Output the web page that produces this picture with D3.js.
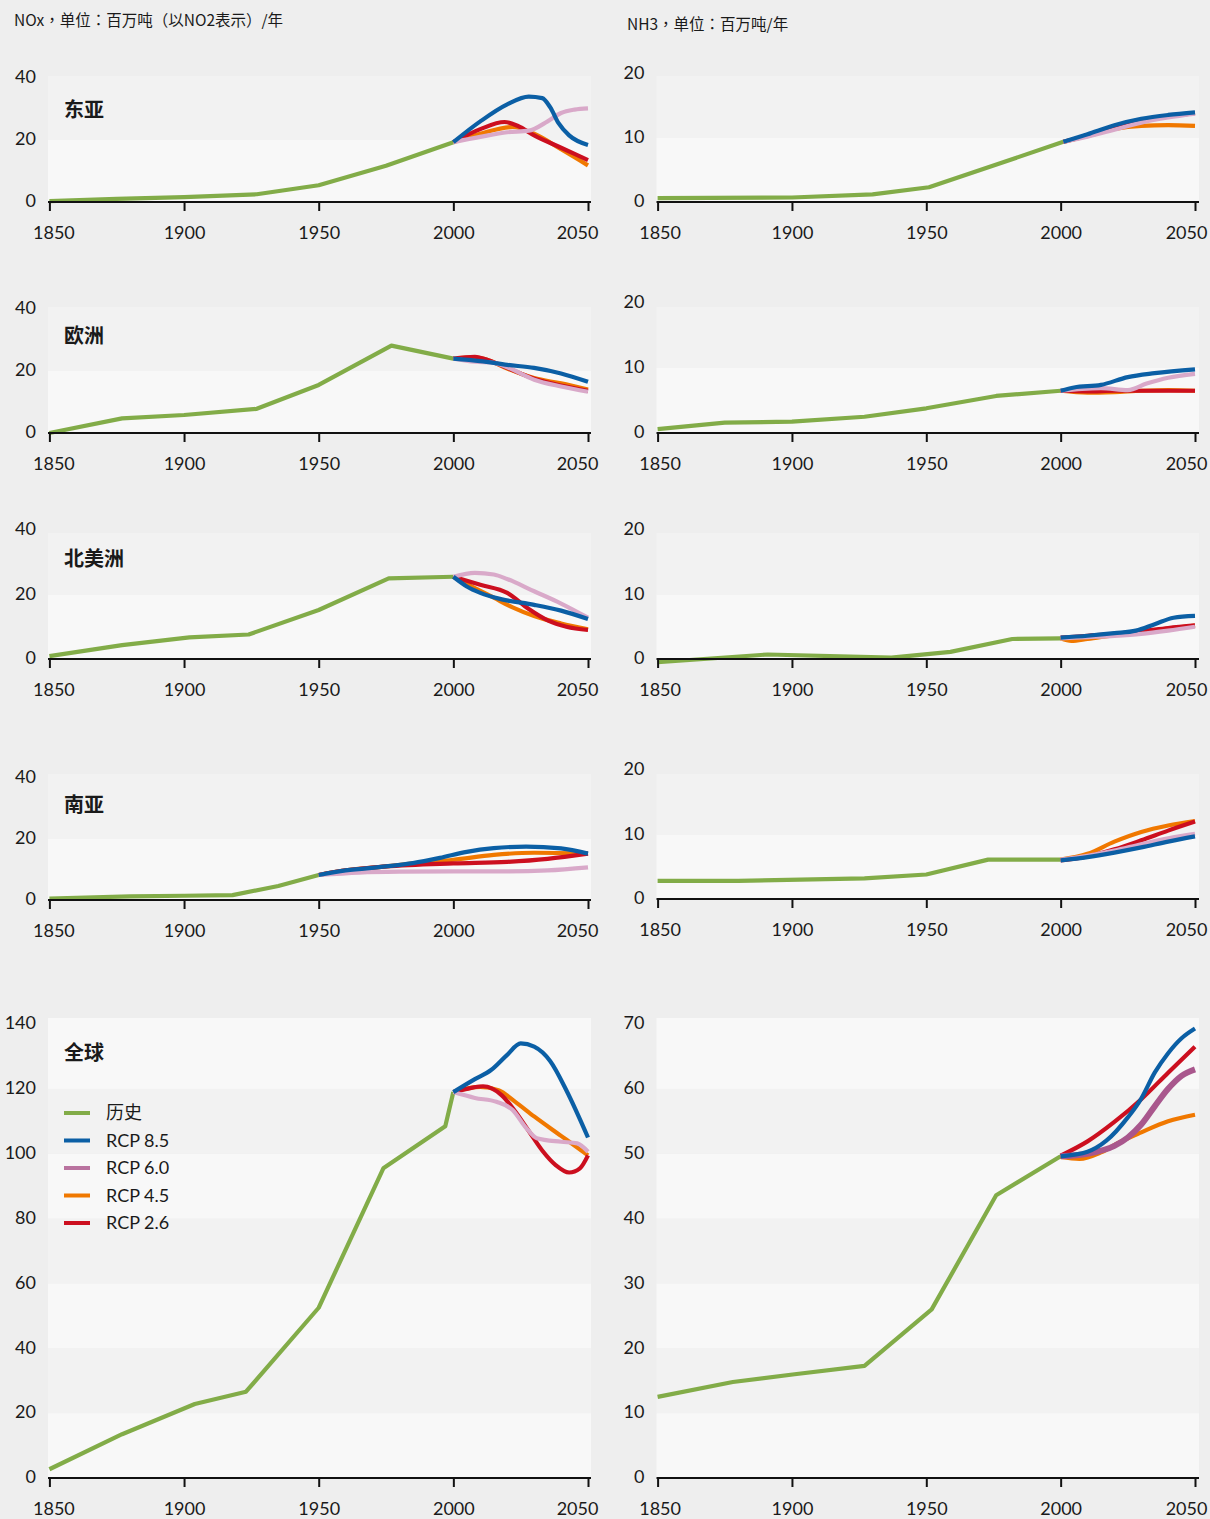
<!DOCTYPE html>
<html><head><meta charset="utf-8">
<script src="https://cdn.jsdelivr.net/npm/d3@7"></script>
<style>
html,body{margin:0;padding:0;background:#eeeeee;}
svg{display:block}
</style></head><body>
<svg id="chart" width="1210" height="1519"></svg>
<script>
// ---------- data ----------
const regions = ["东亚", "欧洲", "北美洲", "南亚", "全球"];
const seriesNames = ["历史", "RCP 8.5", "RCP 6.0", "RCP 4.5", "RCP 2.6"];
const titleNOx = "NOx，单位：百万吨（以NO2表示）/年";
const titleNH3 = "NH3，单位：百万吨/年";
const xTicks = [1850, 1900, 1950, 2000, 2050];
const noxRegionTicks = [0, 20, 40];
const noxGlobalTicks = [0, 20, 40, 60, 80, 100, 120, 140];
const nh3RegionTicks = [0, 10, 20];
const nh3GlobalTicks = [0, 10, 20, 30, 40, 50, 60, 70];

// NOx
const noxEastAsia = {
  hist:  [[1850,0.3],[1875,1.0],[1900,1.6],[1927,2.5],[1950,5.4],[1975,11.7],[2000,19.3]],
  rcp85: [[2000,19.3],[2010,26],[2020,31.5],[2028,34],[2033,33.5],[2036,30.5],[2039,25.5],[2043,21.5],[2050,18.4]],
  rcp60: [[2000,19.3],[2010,21],[2020,22.5],[2028,23],[2035,26],[2040,28.7],[2045,29.8],[2050,30.2]],
  rcp45: [[2000,19.3],[2010,22],[2022,24.2],[2030,22],[2040,17],[2050,11.8]],
  rcp26: [[2000,19.3],[2010,23.5],[2019,25.8],[2024,24.5],[2030,21.5],[2040,17.5],[2050,13.5]]
};
const noxEurope = {
  hist:  [[1850,0],[1877,4.7],[1900,5.8],[1927,7.8],[1950,15.5],[1977,28.2],[2000,24]],
  rcp85: [[2000,24],[2010,23.2],[2020,22],[2030,21],[2040,19.2],[2050,16.5]],
  rcp60: [[2000,24],[2008,23],[2015,22.6],[2020,21.2],[2030,17.2],[2040,15],[2050,13.3]],
  rcp45: [[2000,24],[2008,24.4],[2013,23.5],[2020,20.8],[2030,17.7],[2040,16],[2050,14]],
  rcp26: [[2000,24],[2008,24.6],[2013,23.5],[2020,21],[2030,17.5],[2040,15.3],[2050,13.6]]
};
const noxNorthAmerica = {
  hist:  [[1850,0.9],[1877,4.3],[1902,6.7],[1924,7.6],[1950,15.2],[1976,25],[2000,25.5]],
  rcp85: [[2000,25.5],[2005,22.5],[2010,20.5],[2018,18.5],[2030,16.8],[2040,15],[2050,12.4]],
  rcp60: [[2000,25.5],[2008,26.7],[2015,26.2],[2020,24.8],[2030,21],[2040,17.2],[2050,12.8]],
  rcp45: [[2000,25.5],[2008,22],[2015,19],[2022,16],[2030,13.3],[2040,11],[2050,9.2]],
  rcp26: [[2000,25.5],[2010,23],[2020,20.5],[2028,15.5],[2035,12],[2042,10],[2050,9]]
};
const noxSouthAsia = {
  hist:  [[1850,0.5],[1880,1.2],[1900,1.4],[1918,1.6],[1935,4.6],[1950,8.2]],
  rcp85: [[1950,8.2],[1960,9.7],[1975,11],[1985,12.1],[1995,13.8],[2005,15.8],[2015,17],[2027,17.5],[2040,16.9],[2050,15.2]],
  rcp60: [[1950,8.2],[1965,9],[1980,9.3],[2000,9.4],[2020,9.4],[2035,9.7],[2050,10.7]],
  rcp45: [[1950,8.2],[1960,9.7],[1975,11],[1985,12],[2000,13.2],[2015,14.8],[2030,15.5],[2050,15.3]],
  rcp26: [[1950,8.2],[1960,9.7],[1975,11],[2000,12],[2020,12.5],[2035,13.5],[2050,15.2]]
};
const noxGlobal = {
  hist:  [[1850,2.7],[1877,13.5],[1904,22.8],[1923,26.6],[1950,52.5],[1974,95.5],[1997,108.5],[2000,119]],
  rcp85: [[2000,119],[2008,123],[2014,125.8],[2020,130.5],[2025,134],[2030,133],[2036,128.5],[2042,119.5],[2050,105]],
  rcp60: [[2000,119],[2008,117.2],[2016,116],[2022,113.5],[2027,108],[2031,104.8],[2040,103.7],[2046,103.2],[2050,100.6]],
  rcp45: [[2000,119],[2010,120.6],[2017,119.5],[2023,116],[2030,111.5],[2040,105.5],[2050,99.5]],
  rcp26: [[2000,119],[2005,120],[2011,120.8],[2018,118],[2023,113],[2028,107],[2033,101],[2038,96.5],[2043,94.2],[2047,95.5],[2050,99.5]]
};
// NH3
const nh3EastAsia = {
  hist:  [[1850,0.6],[1900,0.7],[1930,1.2],[1951,2.3],[2001,9.4]],
  rcp85: [[2001,9.4],[2010,10.6],[2020,12],[2030,13],[2040,13.6],[2050,14]],
  rcp60: [[2001,9.4],[2010,10.2],[2020,11.3],[2030,12.4],[2040,13.2],[2050,13.8]],
  rcp45: [[2001,9.4],[2010,10.3],[2020,11.4],[2030,11.9],[2040,12],[2050,11.9]],
  rcp26: [[2001,9.4],[2010,10.4],[2020,11.7],[2030,12.8],[2040,13.4],[2050,13.9]]
};
const nh3Europe = {
  hist:  [[1850,0.6],[1875,1.6],[1900,1.75],[1927,2.5],[1950,3.8],[1976,5.7],[2000,6.5]],
  rcp85: [[2000,6.5],[2005,7],[2015,7.4],[2025,8.6],[2035,9.2],[2050,9.8]],
  rcp60: [[2000,6.5],[2008,6.8],[2015,6.9],[2025,6.6],[2032,7.6],[2040,8.5],[2050,9.1]],
  rcp45: [[2000,6.5],[2010,6.2],[2020,6.3],[2030,6.5],[2040,6.6],[2050,6.5]],
  rcp26: [[2000,6.5],[2010,6.4],[2020,6.5],[2030,6.5],[2040,6.5],[2050,6.5]]
};
const nh3NorthAmerica = {
  hist:  [[1850,-0.5],[1891,0.7],[1937,0.2],[1959,1.1],[1982,3.1],[2000,3.2]],
  rcp85: [[2000,3.3],[2010,3.6],[2020,4],[2028,4.4],[2035,5.4],[2042,6.4],[2050,6.7]],
  rcp60: [[2000,3.2],[2010,3.4],[2020,3.6],[2030,3.9],[2040,4.4],[2050,5.0]],
  rcp45: [[2000,3.2],[2004,2.8],[2010,3.1],[2020,3.7],[2030,4.2],[2040,4.7],[2050,5.2]],
  rcp26: [[2000,3.3],[2010,3.6],[2020,3.9],[2030,4.3],[2040,4.8],[2050,5.2]]
};
const nh3SouthAsia = {
  hist:  [[1850,2.8],[1880,2.8],[1927,3.2],[1950,3.8],[1973,6.1],[2000,6.1]],
  rcp85: [[2000,6.0],[2010,6.5],[2020,7.2],[2030,8],[2040,8.9],[2050,9.7]],
  rcp60: [[2000,6.1],[2010,6.7],[2020,7.5],[2030,8.5],[2040,9.4],[2050,10.1]],
  rcp45: [[2000,6.1],[2010,7],[2020,8.9],[2030,10.4],[2040,11.4],[2050,12.1]],
  rcp26: [[2000,6.0],[2010,6.6],[2020,7.7],[2030,9.1],[2040,10.6],[2050,12]]
};
const nh3Global = {
  hist:  [[1850,12.5],[1878,14.8],[1901,16],[1927,17.3],[1952,26],[1976,43.6],[2000,49.6]],
  rcp85: [[2000,49.6],[2010,50.3],[2017,52],[2025,55.6],[2030,58.5],[2035,62.5],[2040,65.5],[2045,67.8],[2050,69.3]],
  rcp60: [[2000,49.6],[2010,50],[2020,51.2],[2025,52.5],[2030,54.5],[2035,57.3],[2040,60],[2045,62],[2050,63]],
  rcp45: [[2000,49.5],[2007,49.2],[2015,50.2],[2022,51.8],[2030,53.3],[2040,55],[2050,56]],
  rcp26: [[2000,49.7],[2010,51.9],[2020,54.9],[2030,58.4],[2040,62.5],[2050,66.5]]
};

// ---------- styling / layout ----------
const colors = {hist:"#82ac48", rcp85:"#0b5fa5", rcp60:"#d9a9c9", rcp45:"#f07800", rcp26:"#cc0f1f"};
const legendColors = {hist:"#82ac48", rcp85:"#0b5fa5", rcp60:"#b9739f", rcp45:"#f07800", rcp26:"#cc0f1f"};
const seriesKeys = ["hist","rcp85","rcp60","rcp45","rcp26"];
const drawOrder = ["hist","rcp45","rcp26","rcp60","rcp85"];
const latin = "Lato, 'DejaVu Sans', sans-serif";
const cjk = "'Noto Sans CJK SC', sans-serif";

const columns = [
  {xr:[49.4, 588], bg:[48, 591], labelDx:[4, -11]},
  {xr:[657.6, 1195], bg:[656.5, 1199], labelDx:[2, -9]}
];
const rows = [
  {bgTop:76,  labelY:110, left:{y0:202, yTop:78},  right:{y0:202, yTop:74}},
  {bgTop:307, labelY:336, left:{y0:433, yTop:309}, right:{y0:433, yTop:303}},
  {bgTop:533, labelY:559, left:{y0:659, yTop:530}, right:{y0:659, yTop:530}},
  {bgTop:774, labelY:805, left:{y0:900, yTop:778}, right:{y0:899, yTop:770}},
  {bgTop:1018,labelY:1053,left:{y0:1478,yTop:1024},right:{y0:1478,yTop:1024}}
];
const noxData = [noxEastAsia, noxEurope, noxNorthAmerica, noxSouthAsia, noxGlobal];
const nh3Data = [nh3EastAsia, nh3Europe, nh3NorthAmerica, nh3SouthAsia, nh3Global];

const svg = d3.select("#chart");

svg.append("text").attr("x",14).attr("y",26).attr("lang","zh-TW").attr("xml:lang","zh-TW")
  .style("font-family","'Noto Sans CJK TC', sans-serif").style("font-size","15.5px").attr("fill","#1a1a1a")
  .text(titleNOx);
svg.append("text").attr("x",627).attr("y",30).attr("lang","zh-TW").attr("xml:lang","zh-TW")
  .style("font-family","'Noto Sans CJK TC', sans-serif").style("font-size","15.5px").attr("fill","#1a1a1a")
  .text(titleNH3);

function drawPanel(colIdx, rowIdx, data, ticks, showLabel, showLegend) {
  const col = columns[colIdx], row = rows[rowIdx];
  const geo = colIdx === 0 ? row.left : row.right;
  const ymax = ticks[ticks.length-1];
  const x = d3.scaleLinear().domain([1850, 2050]).range(col.xr);
  const y = d3.scaleLinear().domain([0, ymax]).range([geo.y0, geo.yTop]);
  const g = svg.append("g");

  // background bands
  for (let i = 0; i < ticks.length-1; i++) {
    const top = (i === ticks.length-2) ? row.bgTop : y(ticks[i+1]);
    const bot = y(ticks[i]);
    g.append("rect").attr("x", col.bg[0]).attr("width", col.bg[1]-col.bg[0])
      .attr("y", top).attr("height", bot-top)
      .attr("fill", i % 2 === 0 ? "#f8f8f8" : "#f2f2f2");
  }

  // y labels
  const ya = d3.axisLeft(y).tickValues(ticks).tickSize(0).tickPadding(12);
  const yg = g.append("g").attr("transform", `translate(${col.bg[0]},-1)`).call(ya);
  yg.select(".domain").remove();
  yg.selectAll("text").style("font-family", latin).style("font-size","18px").attr("fill","#1a1a1a");

  // lines
  const lineHist = d3.line().x(d=>x(d[0])).y(d=>y(d[1])).curve(d3.curveLinear);
  const lineRcp = d3.line().x(d=>x(d[0])).y(d=>y(d[1])).curve(d3.curveMonotoneX);
  const isNh3Global = (colIdx===1 && rowIdx===4);
  drawOrder.forEach(k => {
    let c = colors[k], w = 4.2;
    if (k === "rcp60" && isNh3Global) { c = "#a9578d"; w = 6; }
    g.append("path").datum(data[k])
      .attr("d", k === "hist" ? lineHist : lineRcp)
      .attr("fill","none").attr("stroke", c).attr("stroke-width", w)
      .attr("stroke-linejoin","round");
  });

  // x axis
  const xa = d3.axisBottom(x).tickValues(xTicks).tickSize(9).tickPadding(15).tickFormat(d3.format("d"));
  const xg = g.append("g").attr("transform", `translate(0,${geo.y0})`).call(xa);
  xg.select(".domain").remove();
  xg.selectAll(".tick line").attr("stroke","#111").attr("stroke-width",2);
  xg.selectAll("text").style("font-family", latin).style("font-size","18px").attr("fill","#1a1a1a");
  const txts = xg.selectAll("text").nodes();
  d3.select(txts[0]).attr("dx", col.labelDx[0]);
  d3.select(txts[txts.length-1]).attr("dx", col.labelDx[1]);
  g.append("line").attr("x1", col.bg[0]).attr("x2", col.bg[1]).attr("y1", geo.y0).attr("y2", geo.y0)
    .attr("stroke","#111").attr("stroke-width",2);

  if (showLabel) {
    g.append("text").attr("x", 64).attr("y", row.labelY).attr("dy","0.36em")
      .style("font-family", cjk).style("font-size","20px").style("font-weight","700")
      .attr("fill","#1a1a1a").text(regions[rowIdx]);
  }
  if (showLegend) {
    seriesKeys.forEach((k, i) => {
      const ly = 1113 + i*27.5;
      g.append("line").attr("x1",64).attr("x2",90).attr("y1",ly).attr("y2",ly)
        .attr("stroke", legendColors[k]).attr("stroke-width",4);
      g.append("text").attr("x",106).attr("y",ly).attr("dy","0.36em")
        .style("font-family", k === "hist" ? cjk : latin).style("font-size","18px")
        .attr("fill","#1a1a1a").text(seriesNames[i]);
    });
  }
}

for (let r = 0; r < 5; r++) {
  drawPanel(0, r, noxData[r], r === 4 ? noxGlobalTicks : noxRegionTicks, true, r === 4);
  drawPanel(1, r, nh3Data[r], r === 4 ? nh3GlobalTicks : nh3RegionTicks, false, false);
}
</script>
</body></html>
